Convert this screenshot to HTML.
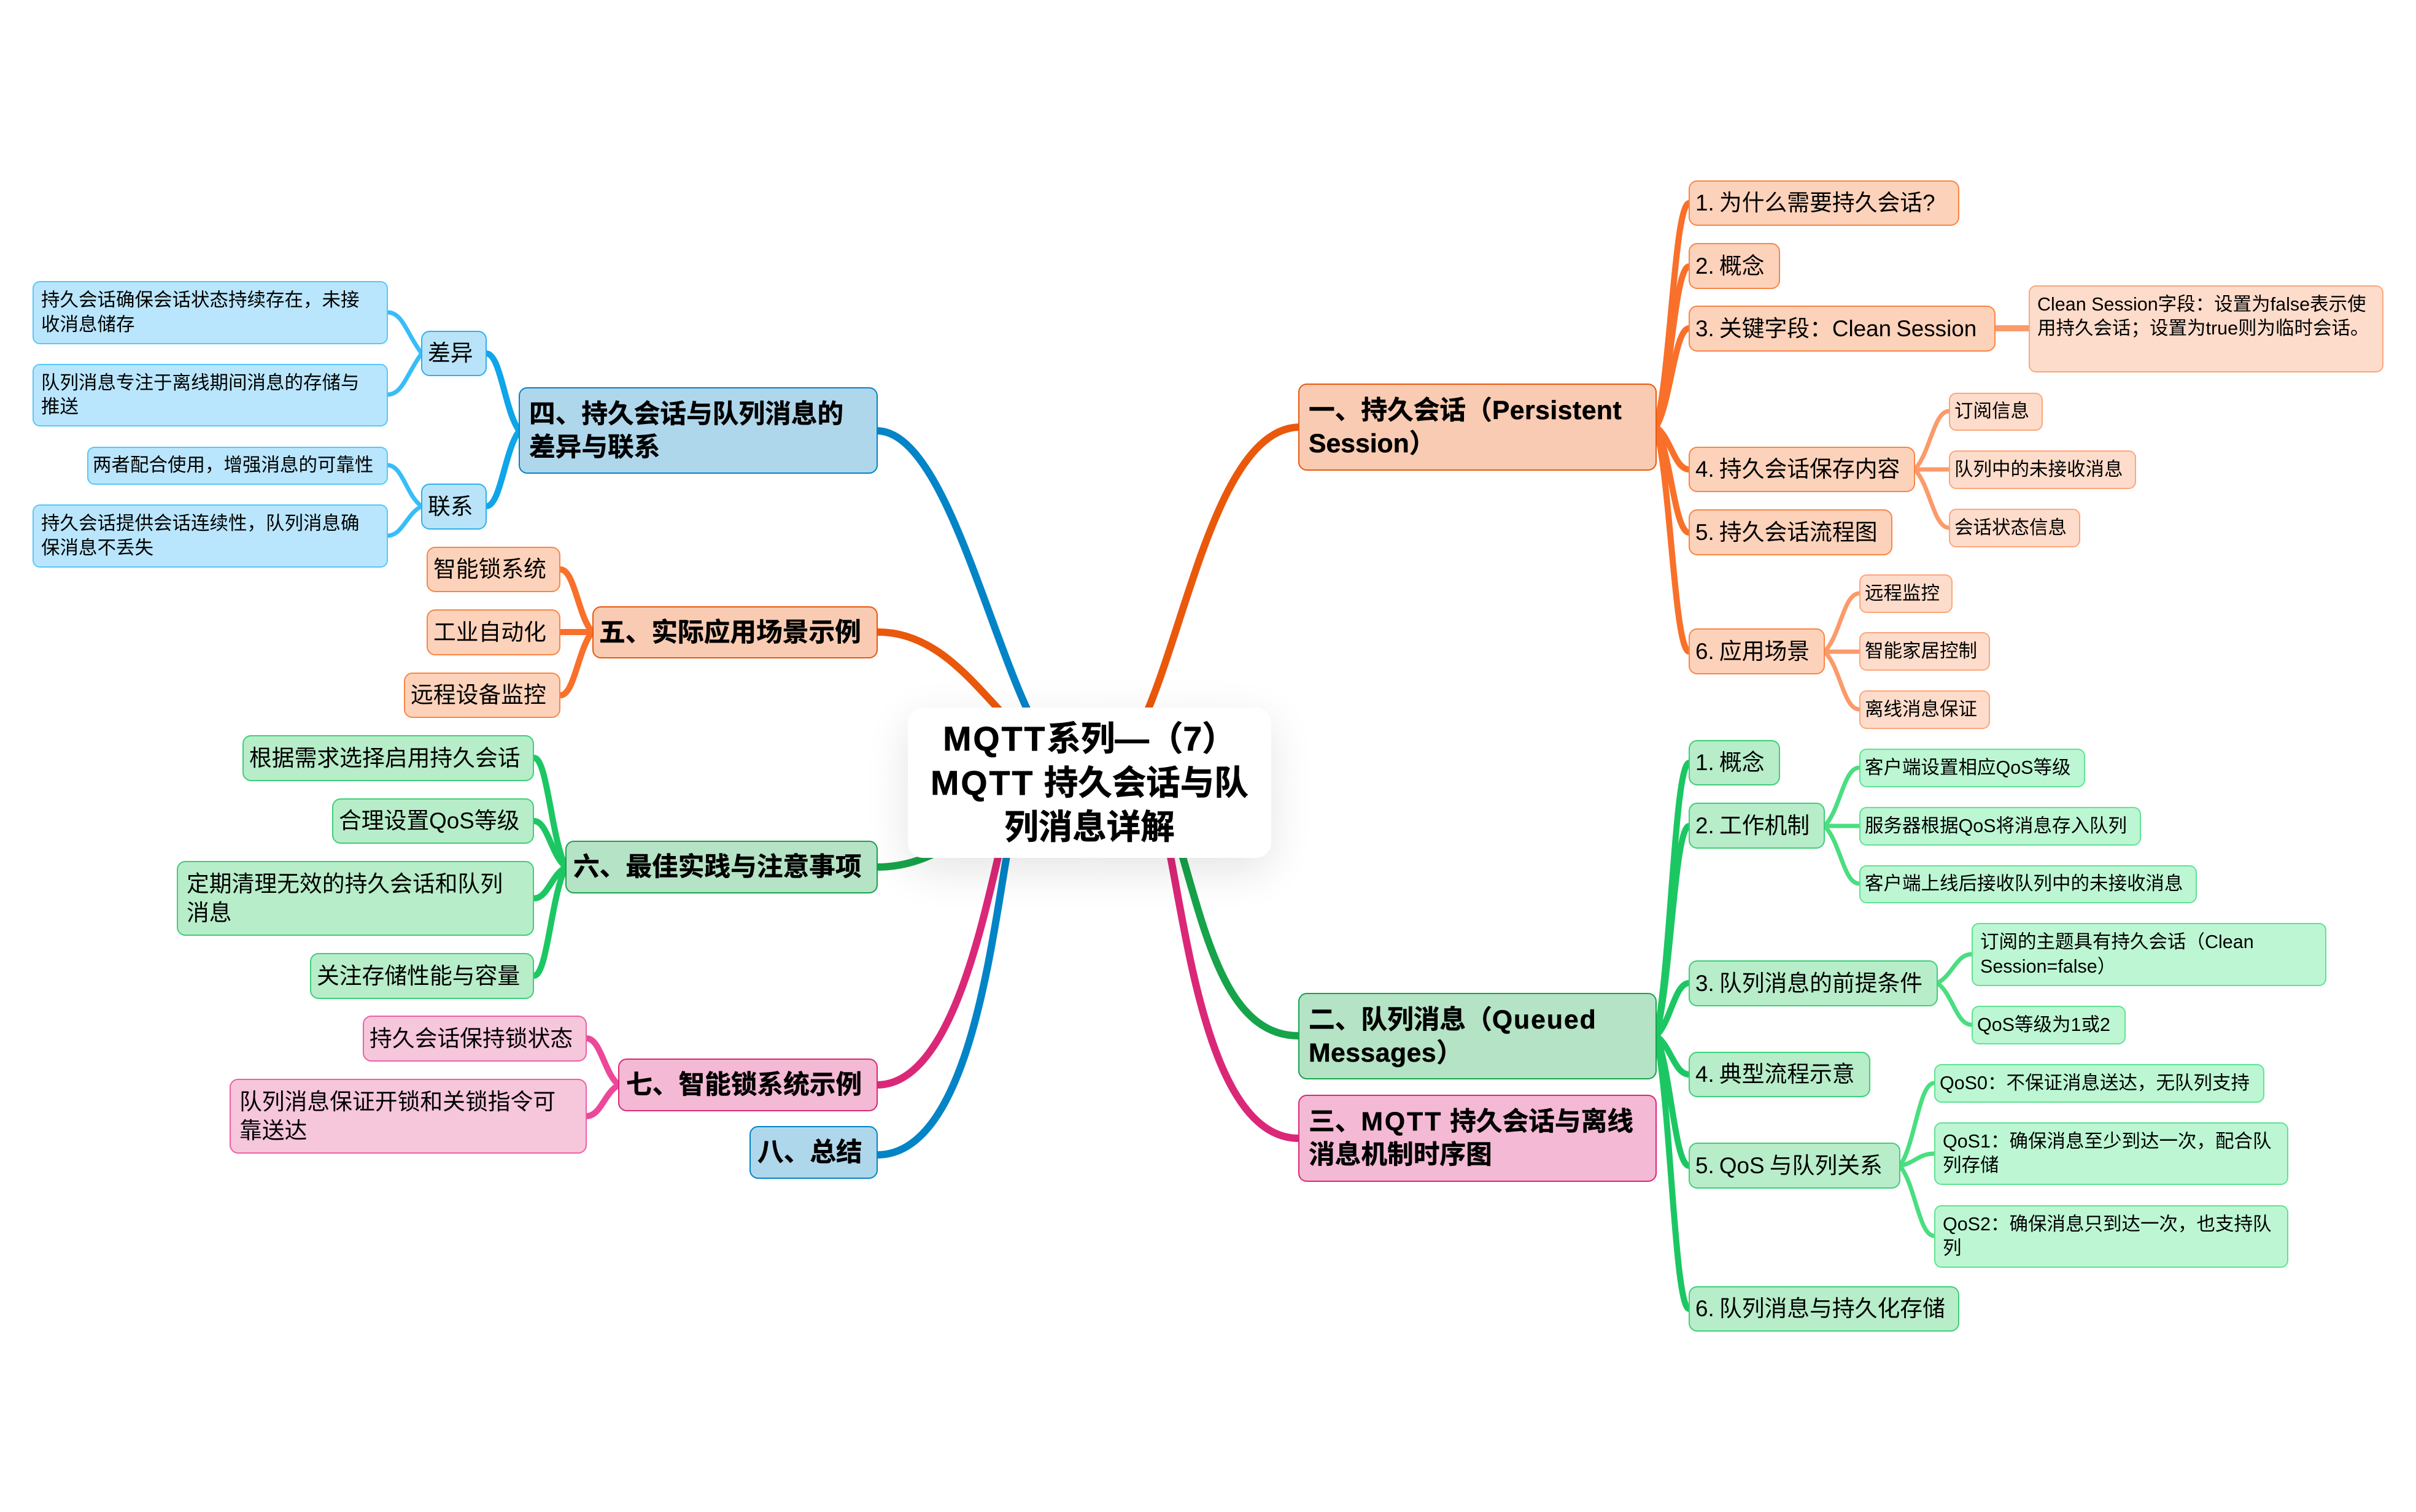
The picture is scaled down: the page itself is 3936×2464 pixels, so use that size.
<!DOCTYPE html>
<html><head><meta charset="utf-8"><style>
html,body{margin:0;padding:0;background:#fff}
#c{position:relative;width:3936px;height:2464px;overflow:hidden;background:#fff;font-family:"Liberation Sans","Noto Sans CJK SC",sans-serif;color:#000}
svg{position:absolute;left:0;top:0}
.n{position:absolute;box-sizing:border-box;display:flex;align-items:center;white-space:nowrap;border-style:solid}
.a{font-size:42.7px;line-height:54px;font-weight:700;-webkit-text-stroke:.5px #000;border-width:2.5px;border-radius:14px;padding-left:15px}
.e{font-size:36.8px;line-height:47.5px;word-spacing:-2px;border-width:2.5px;border-radius:14px;padding-left:9px}
.t{font-size:30.5px;line-height:39.5px;border-width:2px;border-radius:12px;padding-left:7px}
.oa{background:#f9cbb2;border-color:#ea580c}.oe{background:#fdd2ba;border-color:#fa8544}.ot{background:#fddccb;border-color:#fda67a}
.ga{background:#b5e3c5;border-color:#16a34a}.ge{background:#b7edc9;border-color:#3ecf78}.gt{background:#bdf6d3;border-color:#5fe392}
.pa{background:#f4b9d4;border-color:#db2777}.pe{background:#f6c6db;border-color:#ee5fa6}
.ba{background:#afd7ec;border-color:#0284c7}.be{background:#b9e3f8;border-color:#2db1ec}.bt{background:#bae6fd;border-color:#55c8fa}
#m{position:absolute;left:1479px;top:1153px;width:592px;height:245px;background:#fff;border-radius:25px;box-shadow:0 20px 70px rgba(0,0,0,.11);font-size:55.5px;line-height:72px;font-weight:700;-webkit-text-stroke:.7px #000;text-align:center;display:flex;align-items:center;justify-content:center;white-space:nowrap}
.q{letter-spacing:2px}.w{letter-spacing:3px}.r{letter-spacing:.5px}
</style></head><body><div id="c">
<svg width="3936" height="2464" fill="none" stroke-linecap="round">
<g stroke-width="12">
<path stroke="#ea580c" d="M1855 1190C1930 1040 1980 700 2116 696"/>
<path stroke="#16a34a" d="M1910 1340C1960 1500 1990 1688 2116 1688"/>
<path stroke="#db2777" d="M1895 1340C1930 1480 1960 1855 2116 1855"/>
<path stroke="#0284c7" d="M1690 1190C1610 1040 1540 706 1430 702"/>
<path stroke="#ea580c" d="M1650 1180C1590 1120 1530 1030 1430 1030"/>
<path stroke="#16a34a" d="M1560 1370C1520 1395 1480 1413 1429 1413"/>
<path stroke="#db2777" d="M1640 1340C1610 1450 1560 1768 1429 1768"/>
<path stroke="#0284c7" d="M1650 1340C1620 1480 1590 1882 1429 1882"/>
</g>
<g stroke-width="10" stroke="#f9702a">
<path d="M2698 696C2722 605 2728 331 2752 331"/>
<path d="M2698 696C2722 630 2728 434 2752 434"/>
<path d="M2698 696C2722 656 2728 535 2752 535"/>
<path d="M2698 696C2722 713 2728 765 2752 765"/>
<path d="M2698 696C2722 739 2728 868 2752 868"/>
<path d="M2698 696C2722 787 2728 1062 2752 1062"/>
</g>
<g stroke-width="10" stroke="#1cc763">
<path d="M2698 1688C2722 1577 2728 1243 2752 1243"/>
<path d="M2698 1688C2722 1602 2728 1346 2752 1346"/>
<path d="M2698 1688C2722 1666 2728 1602 2752 1602"/>
<path d="M2698 1688C2722 1704 2728 1751 2752 1751"/>
<path d="M2698 1688C2722 1741 2728 1900 2752 1900"/>
<path d="M2698 1688C2722 1799 2728 2133 2752 2133"/>
</g>
<g stroke-width="10" stroke="#0ea5e9">
<path d="M846 702C822 670 816 576 792 576"/>
<path d="M846 702C822 733 816 825 792 825"/>
</g>
<g stroke-width="10" stroke="#f9702a">
<path d="M965 1030C942 1005 936 928 913 928"/>
<path d="M965 1030H913"/>
<path d="M965 1030C942 1056 936 1133 913 1133"/>
</g>
<g stroke-width="10" stroke="#1cc763">
<path d="M922 1413C898 1368 892 1235 870 1235"/>
<path d="M922 1413C898 1394 892 1338 870 1338"/>
<path d="M922 1413C898 1426 892 1464 870 1464"/>
<path d="M922 1413C898 1457 892 1590 870 1590"/>
</g>
<g stroke-width="10" stroke="#ec4899">
<path d="M1008 1768C984 1749 979 1692 955 1692"/>
<path d="M1008 1768C984 1781 979 1819 955 1819"/>
</g>
<g stroke-width="7" stroke="#fb9a6a">
<path d="M3250 535H3306" stroke-width="10"/>
<path d="M3119 765C3144 741 3150 670 3175 670"/>
<path d="M3119 765H3175"/>
<path d="M3119 765C3144 789 3150 860 3175 860"/>
<path d="M2972 1062C2998 1038 3003 967 3029 967"/>
<path d="M2972 1062H3029"/>
<path d="M2972 1062C2998 1085 3003 1156 3029 1156"/>
</g>
<g stroke-width="7" stroke="#4ade80">
<path d="M2972 1346C2998 1322 3003 1251 3029 1251"/>
<path d="M2972 1346H3029"/>
<path d="M2972 1346C2998 1370 3003 1440 3029 1440"/>
<path d="M3156 1602C3181 1590 3187 1555 3212 1555"/>
<path d="M3156 1602C3181 1619 3187 1670 3212 1670"/>
<path d="M3095 1900C3120 1866 3126 1765 3151 1765"/>
<path d="M3095 1900C3120 1895 3126 1880 3151 1880"/>
<path d="M3095 1900C3120 1928 3126 2014 3151 2014"/>
</g>
<g stroke-width="7" stroke="#38bdf8">
<path d="M687 576C662 543 656 509 631 509"/>
<path d="M687 576C662 610 656 643 631 643"/>
<path d="M687 825C662 808 656 758 631 758"/>
<path d="M687 825C662 837 656 873 631 873"/>
</g>
</svg>
<div id="m"><div><span class="w">MQTT</span>系列—（7）<br><span class="w">MQTT</span> 持久会话与队<br>列消息详解</div></div>

<div class="n a oa" style="left:2115px;top:625px;width:584px;height:142px"><div>一、持久会话（<span class="r">Persistent</span><br>Session）</div></div>
<div class="n a ga" style="left:2115px;top:1618px;width:584px;height:141px"><div>二、队列消息（<span class="q">Queued</span><br><span class="r">Messages</span>）</div></div>
<div class="n a pa" style="left:2115px;top:1784px;width:584px;height:142px"><div>三、<span class="w">MQTT</span> 持久会话与离线<br>消息机制时序图</div></div>
<div class="n a ba" style="left:845px;top:631px;width:585px;height:141px"><div>四、持久会话与队列消息的<br>差异与联系</div></div>
<div class="n a oa" style="left:965px;top:988px;width:465px;height:85px;padding-left:9px">五、实际应用场景示例</div>
<div class="n a ga" style="left:921px;top:1370px;width:509px;height:86px;padding-left:11px">六、最佳实践与注意事项</div>
<div class="n a pa" style="left:1007px;top:1725px;width:423px;height:86px;padding-left:11px">七、智能锁系统示例</div>
<div class="n a ba" style="left:1221px;top:1835px;width:209px;height:86px;padding-left:11px">八、总结</div>

<div class="n e oe" style="left:2751px;top:294px;width:441px;height:74px">1. 为什么需要持久会话?</div>
<div class="n e oe" style="left:2751px;top:396px;width:149px;height:75px">2. 概念</div>
<div class="n e oe" style="left:2751px;top:498px;width:500px;height:75px">3. 关键字段：Clean Session</div>
<div class="n e oe" style="left:2751px;top:728px;width:369px;height:74px">4. 持久会话保存内容</div>
<div class="n e oe" style="left:2751px;top:830px;width:332px;height:75px">5. 持久会话流程图</div>
<div class="n e oe" style="left:2751px;top:1024px;width:222px;height:75px">6. 应用场景</div>

<div class="n t ot" style="left:3305px;top:465px;width:578px;height:142px;padding-left:12px"><div>Clean Session字段：设置为false表示使<br>用持久会话；设置为true则为临时会话。<br>&nbsp;</div></div>
<div class="n t ot" style="left:3175px;top:640px;width:153px;height:62px">订阅信息</div>
<div class="n t ot" style="left:3175px;top:734px;width:305px;height:63px">队列中的未接收消息</div>
<div class="n t ot" style="left:3175px;top:829px;width:214px;height:63px">会话状态信息</div>
<div class="n t ot" style="left:3029px;top:936px;width:152px;height:63px">远程监控</div>
<div class="n t ot" style="left:3029px;top:1030px;width:213px;height:63px">智能家居控制</div>
<div class="n t ot" style="left:3029px;top:1125px;width:213px;height:63px">离线消息保证</div>

<div class="n e ge" style="left:2751px;top:1206px;width:149px;height:74px">1. 概念</div>
<div class="n e ge" style="left:2751px;top:1308px;width:222px;height:75px">2. 工作机制</div>
<div class="n e ge" style="left:2751px;top:1565px;width:406px;height:75px">3. 队列消息的前提条件</div>
<div class="n e ge" style="left:2751px;top:1714px;width:296px;height:74px">4. 典型流程示意</div>
<div class="n e ge" style="left:2751px;top:1862px;width:345px;height:75px">5. QoS 与队列关系</div>
<div class="n e ge" style="left:2751px;top:2096px;width:441px;height:74px">6. 队列消息与持久化存储</div>

<div class="n t gt" style="left:3029px;top:1220px;width:368px;height:63px">客户端设置相应QoS等级</div>
<div class="n t gt" style="left:3029px;top:1315px;width:459px;height:63px">服务器根据QoS将消息存入队列</div>
<div class="n t gt" style="left:3029px;top:1410px;width:550px;height:62px">客户端上线后接收队列中的未接收消息</div>
<div class="n t gt" style="left:3212px;top:1504px;width:578px;height:103px;padding-left:12px"><div>订阅的主题具有持久会话（Clean<br>Session=false）</div></div>
<div class="n t gt" style="left:3212px;top:1639px;width:251px;height:63px">QoS等级为1或2</div>
<div class="n t gt" style="left:3151px;top:1734px;width:538px;height:63px">QoS0：不保证消息送达，无队列支持</div>
<div class="n t gt" style="left:3151px;top:1829px;width:577px;height:102px;padding-left:12px"><div>QoS1：确保消息至少到达一次，配合队<br>列存储</div></div>
<div class="n t gt" style="left:3151px;top:1964px;width:577px;height:102px;padding-left:12px"><div>QoS2：确保消息只到达一次，也支持队<br>列</div></div>

<div class="n e be" style="left:686px;top:539px;width:107px;height:74px">差异</div>
<div class="n e be" style="left:686px;top:788px;width:107px;height:75px">联系</div>
<div class="n t bt" style="left:53px;top:458px;width:579px;height:103px;padding-left:12px"><div>持久会话确保会话状态持续存在，未接<br>收消息储存</div></div>
<div class="n t bt" style="left:53px;top:593px;width:579px;height:102px;padding-left:12px"><div>队列消息专注于离线期间消息的存储与<br>推送</div></div>
<div class="n t bt" style="left:142px;top:728px;width:490px;height:62px">两者配合使用，增强消息的可靠性</div>
<div class="n t bt" style="left:53px;top:822px;width:579px;height:103px;padding-left:12px"><div>持久会话提供会话连续性，队列消息确<br>保消息不丢失</div></div>

<div class="n e oe" style="left:695px;top:891px;width:218px;height:74px">智能锁系统</div>
<div class="n e oe" style="left:695px;top:993px;width:218px;height:75px">工业自动化</div>
<div class="n e oe" style="left:658px;top:1096px;width:255px;height:74px">远程设备监控</div>

<div class="n e ge" style="left:395px;top:1198px;width:475px;height:75px">根据需求选择启用持久会话</div>
<div class="n e ge" style="left:541px;top:1301px;width:329px;height:74px">合理设置QoS等级</div>
<div class="n e ge" style="left:288px;top:1403px;width:582px;height:122px;padding-left:14px"><div>定期清理无效的持久会话和队列<br>消息</div></div>
<div class="n e ge" style="left:505px;top:1553px;width:365px;height:75px">关注存储性能与容量</div>

<div class="n e pe" style="left:591px;top:1655px;width:365px;height:75px">持久会话保持锁状态</div>
<div class="n e pe" style="left:374px;top:1758px;width:582px;height:122px;padding-left:14px"><div>队列消息保证开锁和关锁指令可<br>靠送达</div></div>
</div></body></html>
